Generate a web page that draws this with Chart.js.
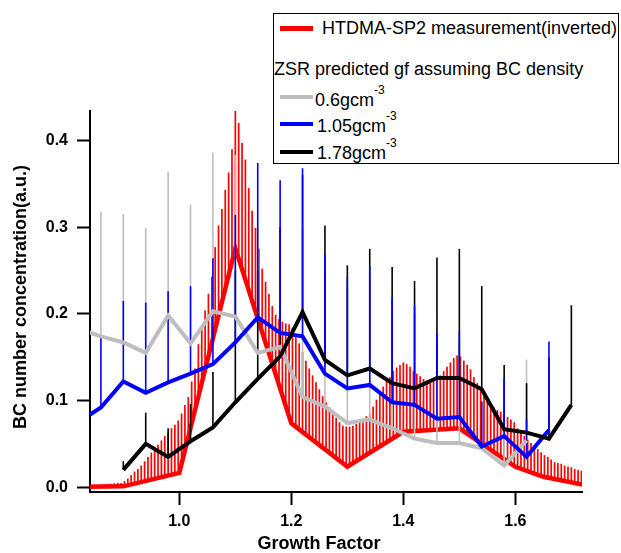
<!DOCTYPE html>
<html>
<head>
<meta charset="utf-8">
<script src="https://cdn.jsdelivr.net/npm/chart.js@4.4.1/dist/chart.umd.min.js"></script>
<style>
body{margin:0;background:#fff;}
#wrap{position:relative;width:621px;height:553px;font-family:"Liberation Sans",Arial,sans-serif;color:#000;}
#legendBox{position:absolute;left:273px;top:13px;width:344px;height:149px;border:1.5px solid #000;background:#fff;}
.row{position:absolute;height:20px;line-height:20px;font-size:18px;white-space:nowrap;}
.row span{position:relative;top:-12px;font-size:12px;}
.key{position:absolute;left:280px;width:33px;height:4px;}
</style>
</head>
<body>
<div id="wrap">
<canvas id="gfChart" width="621" height="553"></canvas>
<div id="legendBox"></div>
<div class="key" style="top:26px;height:5px;background:#ff0000"></div>
<div class="row" style="left:322px;top:18px">HTDMA-SP2 measurement(inverted)</div>
<div class="row" style="left:274px;top:59px">ZSR predicted gf assuming BC density</div>
<div class="key" style="top:95px;background:#bebebe"></div>
<div class="row" style="left:315px;top:90px">0.6gcm<span>-3</span></div>
<div class="key" style="top:122px;background:#0000ff"></div>
<div class="row" style="left:317px;top:116px">1.05gcm<span>-3</span></div>
<div class="key" style="top:150px;background:#000"></div>
<div class="row" style="left:317px;top:143px">1.78gcm<span>-3</span></div>
</div>
<script>
/**********  data  **********/
const xTicks = [1.0, 1.2, 1.4, 1.6];
const yTicks = [0.0, 0.1, 0.2, 0.3, 0.4];
const xTitle = "Growth Factor";
const yTitle = "BC number concentration(a.u.)";

// ZSR predictions, one value per growth factor
const gfX = [0.82,0.86,0.90,0.94,0.98,1.02,1.06,1.10,1.14,1.18,1.22,1.26,1.30,1.34,1.38,1.42,1.46,1.50,1.54,1.58,1.62,1.66,1.70];
const gray06 = [0.183,0.174,0.167,0.155,0.198,0.166,0.203,0.197,0.155,0.162,0.104,0.093,0.074,0.078,0.068,0.056,0.051,0.051,0.045,0.025,0.054,null,null];
const gray06Top = [null,0.318,0.315,0.299,0.364,0.326,0.386,0.383,0.30,0.30,0.30,0.25,0.23,0.24,0.20,0.20,0.17,0.17,0.095,0.12,0.147,null,null];
const blue105 = [0.075,0.092,0.122,0.109,0.121,0.131,0.142,0.167,0.196,0.178,0.174,0.131,0.114,0.118,0.098,0.095,0.079,0.081,0.047,0.059,0.035,0.066,null];
const blue105Top = [null,0.174,0.215,0.213,0.226,0.232,0.264,0.314,0.374,0.354,0.368,0.269,0.243,0.255,0.219,0.210,0.178,0.180,0.099,0.125,0.078,0.168,null];
const black178 = [null,null,0.020,0.050,0.035,0.053,0.069,0.098,0.125,0.151,0.202,0.147,0.129,0.137,0.120,0.114,0.126,0.126,0.113,0.067,0.063,0.056,0.095];
const black178Top = [null,null,0.030,0.086,0.068,0.096,0.133,0.25,0.25,0.30,0.36,0.302,0.256,0.275,0.254,0.238,0.265,0.275,0.232,0.141,0.12,0.15,0.210];

// HTDMA-SP2 measurement: lower line and vertical bars up to the upper bound
const redLineX = [0.84,0.90,1.00,1.10,1.20,1.30,1.40,1.50,1.60,1.65,1.72];
const redLineY = [0.0005,0.001,0.0165,0.2755,0.0737,0.0236,0.064,0.068,0.0236,0.012,0.003];
const redX = [0.842,0.848,0.854,0.860,0.866,0.872,0.878,0.884,0.890,0.896,
  0.902,0.908,0.914,0.920,0.926,0.932,0.938,0.944,0.950,0.956,
  0.962,0.968,0.974,0.980,0.986,0.992,0.998,1.004,1.010,1.016,
  1.022,1.028,1.034,1.040,1.046,1.052,1.058,1.064,1.070,1.076,
  1.082,1.088,1.094,1.100,1.106,1.112,1.118,1.124,1.130,1.136,
  1.142,1.148,1.154,1.160,1.166,1.172,1.178,1.184,1.190,1.196,
  1.202,1.208,1.214,1.220,1.226,1.232,1.238,1.244,1.250,1.256,
  1.262,1.268,1.274,1.280,1.286,1.292,1.298,1.304,1.310,1.316,
  1.322,1.328,1.334,1.340,1.346,1.352,1.358,1.364,1.370,1.376,
  1.382,1.388,1.394,1.400,1.406,1.412,1.418,1.424,1.430,1.436,
  1.442,1.448,1.454,1.460,1.466,1.472,1.478,1.484,1.490,1.496,
  1.502,1.508,1.514,1.520,1.526,1.532,1.538,1.544,1.550,1.556,
  1.562,1.568,1.574,1.580,1.586,1.592,1.598,1.604,1.610,1.616,
  1.622,1.628,1.634,1.640,1.646,1.652,1.658,1.664,1.670,1.676,
  1.682,1.688,1.694,1.700,1.706,1.712,1.718];
const redLow = [0.0005,0.0006,0.0006,0.0007,0.0007,0.0008,0.0008,0.0009,0.0009,0.0010,
  0.0013,0.0019,0.0024,0.0033,0.0041,0.0050,0.0058,0.0068,0.0077,0.0087,
  0.0096,0.0105,0.0114,0.0124,0.0133,0.0143,0.0152,0.0269,0.0424,0.0580,
  0.0735,0.0890,0.1046,0.1200,0.1356,0.1510,0.1667,0.1820,0.1978,0.2133,
  0.2289,0.2444,0.2600,0.2755,0.2634,0.2513,0.2392,0.2271,0.2150,0.2029,
  0.1908,0.1787,0.1666,0.1544,0.1423,0.1302,0.1181,0.1060,0.0939,0.0818,
  0.0727,0.0697,0.0667,0.0637,0.0607,0.0577,0.0547,0.0517,0.0487,0.0457,
  0.0426,0.0396,0.0366,0.0336,0.0306,0.0276,0.0246,0.0252,0.0276,0.0300,
  0.0325,0.0349,0.0373,0.0397,0.0422,0.0446,0.0470,0.0494,0.0519,0.0543,
  0.0567,0.0592,0.0616,0.0640,0.0642,0.0645,0.0647,0.0650,0.0652,0.0654,
  0.0657,0.0659,0.0662,0.0664,0.0666,0.0669,0.0671,0.0674,0.0676,0.0678,
  0.0671,0.0644,0.0618,0.0591,0.0564,0.0538,0.0511,0.0484,0.0458,0.0431,
  0.0404,0.0378,0.0351,0.0324,0.0298,0.0271,0.0245,0.0227,0.0213,0.0199,
  0.0185,0.0171,0.0157,0.0143,0.0129,0.0117,0.0110,0.0102,0.0094,0.0087,
  0.0079,0.0071,0.0064,0.0056,0.0048,0.0041,0.0033];
const redHigh = [0.003,0.003,0.003,0.0035,0.0035,0.004,0.004,0.0045,0.005,0.005,
  0.007,0.010,0.014,0.018,0.021,0.025,0.030,0.035,0.040,0.045,
  0.049,0.054,0.059,0.063,0.068,0.072,0.077,0.085,0.095,0.104,
  0.122,0.137,0.165,0.186,0.204,0.223,0.243,0.277,0.302,0.321,
  0.343,0.363,0.390,0.434,0.420,0.397,0.378,0.345,0.319,0.299,
  0.275,0.252,0.237,0.223,0.209,0.199,0.194,0.191,0.189,0.188,
  0.184,0.173,0.166,0.156,0.146,0.137,0.129,0.121,0.113,0.105,
  0.098,0.092,0.085,0.080,0.075,0.071,0.070,0.070,0.071,0.073,
  0.075,0.079,0.082,0.085,0.093,0.101,0.108,0.116,0.123,0.127,
  0.134,0.138,0.141,0.144,0.142,0.139,0.134,0.131,0.128,0.125,
  0.123,0.122,0.124,0.126,0.129,0.134,0.139,0.144,0.149,0.152,
  0.151,0.146,0.141,0.136,0.127,0.120,0.113,0.106,0.101,0.096,
  0.092,0.089,0.087,0.084,0.081,0.078,0.075,0.068,0.063,0.059,
  0.055,0.051,0.047,0.044,0.040,0.037,0.035,0.032,0.029,0.028,
  0.027,0.025,0.024,0.023,0.021,0.020,0.019];

/**********  chart  **********/
const FONT = "'Liberation Sans', Arial, sans-serif";
Chart.defaults.font.family = FONT;
Chart.defaults.color = "#000";

function pts(ys){
    return gfX.map((x,i)=>({x:x, y:ys[i]})).filter(p=>p.y!==null);
}
function errBars(lo, hi){
    return gfX.map((x,i)=>({x:x, y:[lo[i], hi[i]]})).filter(p=>p.y[0]!==null && p.y[1]!==null);
}
function lineSet(data, color, width, order){
    return {type:"line", data:data, borderColor:color, borderWidth:width, pointRadius:0,
        tension:0, borderJoinStyle:"miter", clip:0, order:order};
}
function barSet(data, color, thick, axis, order){
    return {type:"bar", data:data, backgroundColor:color, borderWidth:0, grouped:false,
        maxBarThickness:thick, inflateAmount:0, xAxisID:axis, order:order};
}

const axisTitles = {
    id:"axisTitles",
    afterDraw(chart){
        const c = chart.ctx;
        c.save();
        c.fillStyle = "#000";
        c.font = "bold 18px " + FONT;
        c.textAlign = "center";
        c.textBaseline = "alphabetic";
        c.fillText(xTitle, 319, 549);
        c.translate(26, 297);
        c.rotate(-Math.PI/2);
        c.fillText(yTitle, 0, 0);
        c.restore();
    }
};

const tickFont = {family:FONT, size:16, weight:"bold"};
const xMin = 0.8405, xMax = 1.719;

const ctx = document.getElementById("gfChart").getContext("2d");
let gfChart = new Chart(ctx, {
    type:"bar",
    data:{
        datasets:[
            barSet(redX.map((x,i)=>({x:x, y:[redLow[i], redHigh[i]]})), "#ff0000", 1.7, "x", 8),
            lineSet(redLineX.map((x,i)=>({x:x, y:redLineY[i]})), "#ff0000", 4.5, 7),
            barSet(errBars(gray06, gray06Top), "#bebebe", 1.6, "xe", 6),
            barSet(errBars(black178, black178Top), "#000000", 1.6, "xe", 5),
            barSet(errBars(blue105, blue105Top), "#0000ff", 1.6, "xe", 4),
            lineSet(pts(gray06), "#bebebe", 4, 3),
            lineSet(pts(blue105), "#0000ff", 4, 2),
            lineSet(pts(black178), "#000000", 4, 1),
        ],
    },
    options:{
        responsive:false,
        animation:false,
        layout:{padding:{top:111, right:39, bottom:0, left:0}},
        plugins:{legend:{display:false}, tooltip:{enabled:false}},
        scales:{
            x:{
                type:"linear", min:xMin, max:xMax, offset:false,
                grid:{drawOnChartArea:false, drawTicks:true, tickLength:13, tickWidth:2, tickColor:"#000", offset:false},
                border:{display:true, color:"#000", width:2},
                ticks:{font:tickFont, color:"#000", padding:7, maxRotation:0, autoSkip:false,
                    callback:v=>v.toFixed(1)},
                afterBuildTicks:s=>{ s.ticks = xTicks.map(v=>({value:v})); },
                afterFit:s=>{ s.height = 61; },
            },
            xe:{type:"linear", min:xMin, max:xMax, offset:false, display:false},
            y:{
                type:"linear", min:-0.0055, max:0.434,
                grid:{drawOnChartArea:false, drawTicks:true, tickLength:13, tickWidth:2, tickColor:"#000"},
                border:{display:true, color:"#000", width:2},
                ticks:{font:tickFont, color:"#000", padding:9, callback:v=>v.toFixed(1)},
                afterBuildTicks:s=>{ s.ticks = yTicks.map(v=>({value:v})); },
                afterFit:s=>{ s.width = 90; },
            },
        },
    },
    plugins:[axisTitles],
});
</script>
</body>
</html>
